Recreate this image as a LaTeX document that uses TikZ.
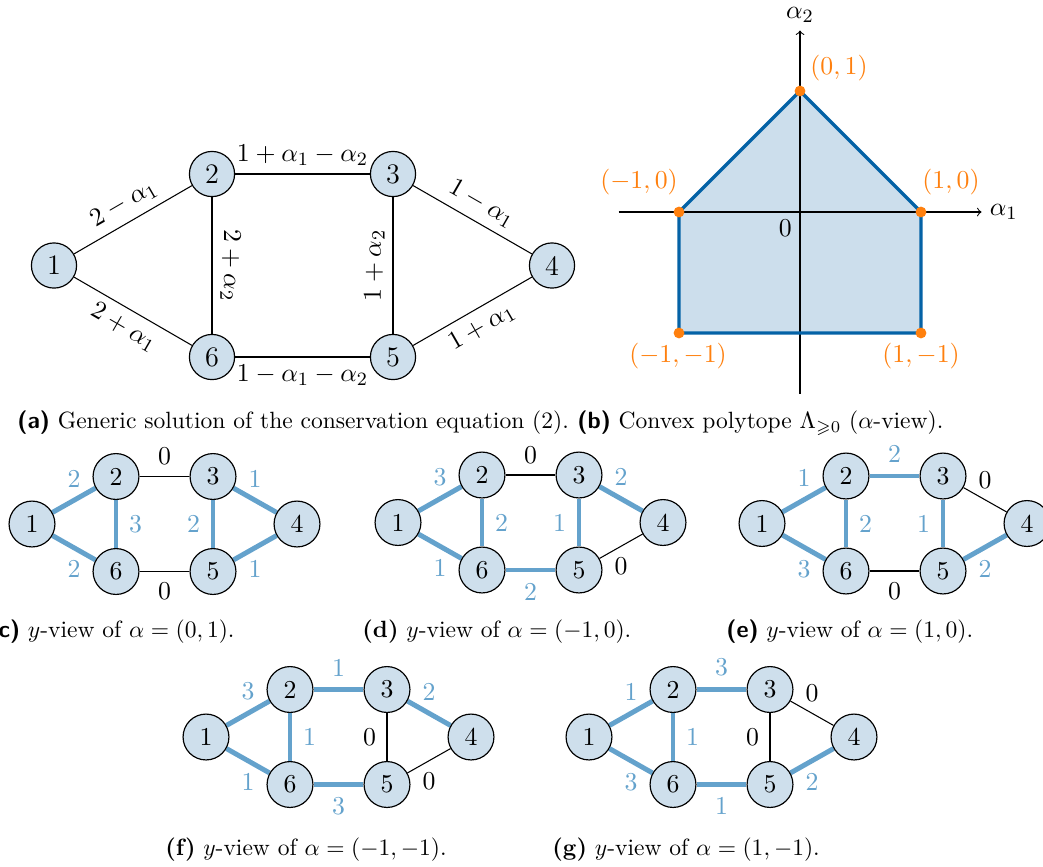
\documentclass[tikz,border=0pt]{standalone}
\usepackage{amssymb}
\definecolor{nodefill}{RGB}{206,223,236}
\definecolor{edgeblue}{RGB}{100,162,204}
\definecolor{polyfill}{RGB}{204,222,236}
\definecolor{polyblue}{RGB}{4,98,166}
\definecolor{dotorange}{RGB}{255,128,14}
\pgfdeclarelayer{edges}
\pgfsetlayers{edges,main}
\newcommand\ynodes[3]{%
  \begin{scope}[shift={(#2,#3)}]
    \node[vtx] (#1n1) at (0,0) {1};
    \node[vtx] (#1n2) at (84,-47.5) {2};
    \node[vtx] (#1n3) at (181,-47.5) {3};
    \node[vtx] (#1n4) at (265,0) {4};
    \node[vtx] (#1n5) at (181,47.5) {5};
    \node[vtx] (#1n6) at (84,47.5) {6};
  \end{scope}}
\newcommand\yed[5]{\draw[#1] (#2) -- node[#4,#1l] {#5} (#3);}
\begin{document}
\begin{tikzpicture}[x=0.425pt,y=-0.425pt,
  vtx/.style={circle,draw,line width=0.5pt,fill=nodefill,inner sep=0pt,minimum size=19.5pt,font=\fontsize{10.95}{13}\selectfont},
  avtx/.style={vtx,minimum size=19.2pt,font=\fontsize{12}{14}\selectfont},
  hot/.style={line width=2.1pt,draw=edgeblue},
  cold/.style={line width=0.45pt,draw=black},
  hotl/.style={text=edgeblue,inner sep=4.5pt,font=\fontsize{10.95}{13}\selectfont},
  coldl/.style={text=black,inner sep=4.5pt,font=\fontsize{10.95}{13}\selectfont},
  alab/.style={font=\fontsize{10.95}{13}\selectfont},
  capt/.style={inner sep=0pt,font=\fontsize{10}{12}\selectfont},
  plab/.style={text=dotorange,font=\fontsize{10.95}{13}\selectfont},
  pdot/.style={circle,fill=dotorange,inner sep=0pt,minimum size=4.6pt},
  axl/.style={font=\fontsize{10.95}{13}\selectfont}
]
\useasboundingbox (0,0) rectangle (1043,866);

% ---------------- (a) ----------------
\node[avtx] (a1) at (54,265.5) {1};
\node[avtx] (a2) at (212,174) {2};
\node[avtx] (a3) at (393,174) {3};
\node[avtx] (a4) at (552,265.5) {4};
\node[avtx] (a5) at (393,357) {5};
\node[avtx] (a6) at (212,357) {6};
\begin{pgfonlayer}{edges}
\draw[cold] (a1) -- node[sloped,above,alab] {$2-\alpha_1$} (a2);
\draw[cold] (a1) -- node[sloped,below,alab] {$2+\alpha_1$} (a6);
\draw[cold] (a2) -- node[above,alab] {$1+\alpha_1-\alpha_2$} (a3);
\draw[cold] (a6) -- node[below,alab] {$1-\alpha_1-\alpha_2$} (a5);
\draw[cold] (a2) -- node[rotate=-90,anchor=south,alab] {$2+\alpha_2$} (a6);
\draw[cold] (a5) -- node[rotate=90,anchor=south,alab] {$1+\alpha_2$} (a3);
\draw[cold] (a3) -- node[sloped,above,alab] {$1-\alpha_1$} (a4);
\draw[cold] (a5) -- node[sloped,below,alab] {$1+\alpha_1$} (a4);
\end{pgfonlayer}

% ---------------- (b) ----------------
\coordinate (O) at (800,212);
\coordinate (xl) at (618.5,212);
\coordinate (xr) at (981.5,212);
\coordinate (yb) at (800,393.5);
\coordinate (yt) at (800,30.5);
\coordinate (p01) at (800,91);
\coordinate (p10) at (921,212);
\coordinate (p1m) at (921,333);
\coordinate (pmm) at (679,333);
\coordinate (pm0) at (679,212);
\fill[polyfill] (p01) -- (p10) -- (p1m) -- (pmm) -- (pm0) -- cycle;
\draw[->,line width=0.45pt] (xl) -- (xr);
\draw[->,line width=0.45pt] (yb) -- (yt);
\node[axl,right] (ax1) at (xr) {$\alpha_1$};
\node[axl,above] (ax2) at (yt) {$\alpha_2$};
\node[axl,below left] (zero) at (O) {$0$};
\draw[polyblue,line width=1.45pt,line join=round] (p01) -- (p10) -- (p1m) -- (pmm) -- (pm0) -- cycle;
\node[pdot] (v01) at (p01) {};
\node[pdot] (v10) at (p10) {};
\node[pdot] (v1m) at (p1m) {};
\node[pdot] (vmm) at (pmm) {};
\node[pdot] (vm0) at (pm0) {};
\node[plab] (l01) at (839,68) {$(0,1)$};
\node[plab] (lm0) at (639,182) {$(-1,0)$};
\node[plab] (l10) at (951,182) {$(1,0)$};
\node[plab] (lmm) at (678,356) {$(-1,-1)$};
\node[plab] (l1m) at (921,356) {$(1,-1)$};

% captions row 1
\node[capt,anchor=west] (capa) at (17,423) {\textsf{\textbf{(a)}} Generic solution of the conservation equation (2).};
\node[capt,anchor=west] (capb) at (577,423) {\textsf{\textbf{(b)}} Convex polytope $\Lambda_{\geqslant 0}$ ($\alpha$-view).};

% ---------------- (c) ----------------
\ynodes{c}{32}{524}
\begin{pgfonlayer}{edges}
\yed{hot}{cn1}{cn2}{above}{2}
\yed{hot}{cn1}{cn6}{below}{2}
\yed{cold}{cn2}{cn3}{above}{0}
\yed{cold}{cn6}{cn5}{below}{0}
\yed{hot}{cn2}{cn6}{right}{3}
\yed{hot}{cn3}{cn5}{left}{2}
\yed{hot}{cn3}{cn4}{above}{1}
\yed{hot}{cn5}{cn4}{below}{1}
\end{pgfonlayer}
\node[capt,anchor=east] (capc) at (235,632) {\textsf{\textbf{(c)}} $y$-view of $\alpha=(0,1)$.};

% ---------------- (d) ----------------
\ynodes{d}{398}{522.5}
\begin{pgfonlayer}{edges}
\yed{hot}{dn1}{dn2}{above}{3}
\yed{hot}{dn1}{dn6}{below}{1}
\yed{cold}{dn2}{dn3}{above}{0}
\yed{hot}{dn6}{dn5}{below}{2}
\yed{hot}{dn2}{dn6}{right}{2}
\yed{hot}{dn3}{dn5}{left}{1}
\yed{hot}{dn3}{dn4}{above}{2}
\yed{cold}{dn5}{dn4}{below}{0}
\end{pgfonlayer}
\node[capt,anchor=west] (capd) at (362,632) {\textbf{(d)} $y$-view of $\alpha=(-1,0)$.};

% ---------------- (e) ----------------
\ynodes{e}{762}{523.5}
\begin{pgfonlayer}{edges}
\yed{hot}{en1}{en2}{above}{1}
\yed{hot}{en1}{en6}{below}{3}
\yed{hot}{en2}{en3}{above}{2}
\yed{cold}{en6}{en5}{below}{0}
\yed{hot}{en2}{en6}{right}{2}
\yed{hot}{en3}{en5}{left}{1}
\yed{cold}{en3}{en4}{above}{0}
\yed{hot}{en5}{en4}{below}{2}
\end{pgfonlayer}
\node[capt,anchor=west] (cape) at (726,632) {\textsf{\textbf{(e)}} $y$-view of $\alpha=(1,0)$.};

% ---------------- (f) ----------------
\ynodes{f}{206}{737}
\begin{pgfonlayer}{edges}
\yed{hot}{fn1}{fn2}{above}{3}
\yed{hot}{fn1}{fn6}{below}{1}
\yed{hot}{fn2}{fn3}{above}{1}
\yed{hot}{fn6}{fn5}{below}{3}
\yed{hot}{fn2}{fn6}{right}{1}
\yed{cold}{fn3}{fn5}{left}{0}
\yed{hot}{fn3}{fn4}{above}{2}
\yed{cold}{fn5}{fn4}{below}{0}
\end{pgfonlayer}
\node[capt,anchor=west] (capf) at (165,850) {\textbf{(f)} $y$-view of $\alpha=(-1,-1)$.};

% ---------------- (g) ----------------
\ynodes{g}{589}{737}
\begin{pgfonlayer}{edges}
\yed{hot}{gn1}{gn2}{above}{1}
\yed{hot}{gn1}{gn6}{below}{3}
\yed{hot}{gn2}{gn3}{above}{3}
\yed{hot}{gn6}{gn5}{below}{1}
\yed{hot}{gn2}{gn6}{right}{1}
\yed{cold}{gn3}{gn5}{left}{0}
\yed{cold}{gn3}{gn4}{above}{0}
\yed{hot}{gn5}{gn4}{below}{2}
\end{pgfonlayer}
\node[capt,anchor=west] (capg) at (552,850) {\textbf{(g)} $y$-view of $\alpha=(1,-1)$.};
\end{tikzpicture}
\end{document}
